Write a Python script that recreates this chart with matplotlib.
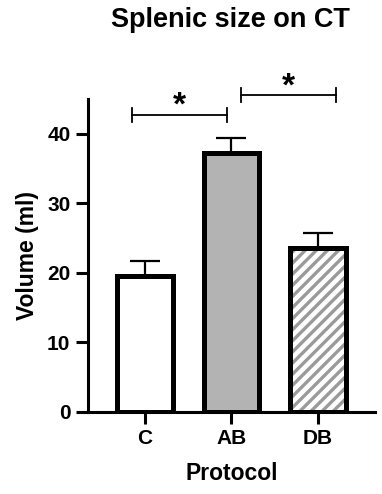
import matplotlib
matplotlib.use("Agg")
import matplotlib.pyplot as plt

plt.rcParams["font.family"] = ["Liberation Sans", "DejaVu Sans"]
plt.rcParams["font.weight"] = "bold"

# data
groups = ["C", "AB", "DB"]
means = [19.5, 37.2, 23.5]
sems = [2.2, 2.2, 2.2]
face_colors = ["white", "#b3b3b3", "white"]
hatches = [None, None, "///"]

# significance brackets: (left x, right x, height)
brackets = [(-0.15, 0.95, 42.7), (1.11, 2.21, 45.5)]
bracket_labels = ["*", "*"]

fig = plt.figure(figsize=(3.82, 4.94), dpi=100)
ax = fig.add_axes([0.230, 0.166, 0.752, 0.634])

x = list(range(len(groups)))
width = 0.64

for i in x:
    if hatches[i]:
        # hatch drawn separately so the stripes can be grey under a black edge
        plt.rcParams["hatch.linewidth"] = 2.4
        ax.bar(i, means[i], width, color="white", edgecolor="#9a9a9a",
               hatch=hatches[i], linewidth=0, zorder=2)
        ax.bar(i, means[i], width, fill=False, edgecolor="black",
               linewidth=3.6, zorder=3)
    else:
        ax.bar(i, means[i], width, color=face_colors[i], edgecolor="black",
               linewidth=3.6, zorder=3)

ax.errorbar(x, means, yerr=[[0] * 3, sems], fmt="none", ecolor="black",
            elinewidth=1.6, capsize=10.5, capthick=1.6, zorder=1)

for (x0, x1, h), lab in zip(brackets, bracket_labels):
    ax.plot([x0, x1], [h, h], color="black", lw=1.3, clip_on=False)
    for xe in (x0, x1):
        ax.plot([xe, xe], [h - 1.0, h + 1.0], color="black", lw=1.3, clip_on=False)
    ax.text((x0 + x1) / 2, h + 1.2, lab, ha="center", va="center",
            fontsize=24, fontweight="bold", clip_on=False)

ax.set_xlim(-0.66, 2.66)
ax.set_ylim(0, 45)
ax.set_yticks([0, 10, 20, 30, 40])
ax.set_xticks(x)
ax.set_xticklabels(groups)

for side in ("top", "right"):
    ax.spines[side].set_visible(False)
for side in ("left", "bottom"):
    ax.spines[side].set_linewidth(2.2)

ax.tick_params(axis="both", width=2.2, length=8.5, labelsize=15, pad=4)
ax.set_ylabel("Volume (ml)", fontsize=16.5, fontweight="bold", labelpad=6)
ax.set_xlabel("Protocol", fontsize=16.5, fontweight="bold", labelpad=10)
fig.text(0.603, 0.985, "Splenic size on CT", ha="center", va="top",
         fontsize=19.5, fontweight="bold")

fig.savefig("out.png", dpi=100)
